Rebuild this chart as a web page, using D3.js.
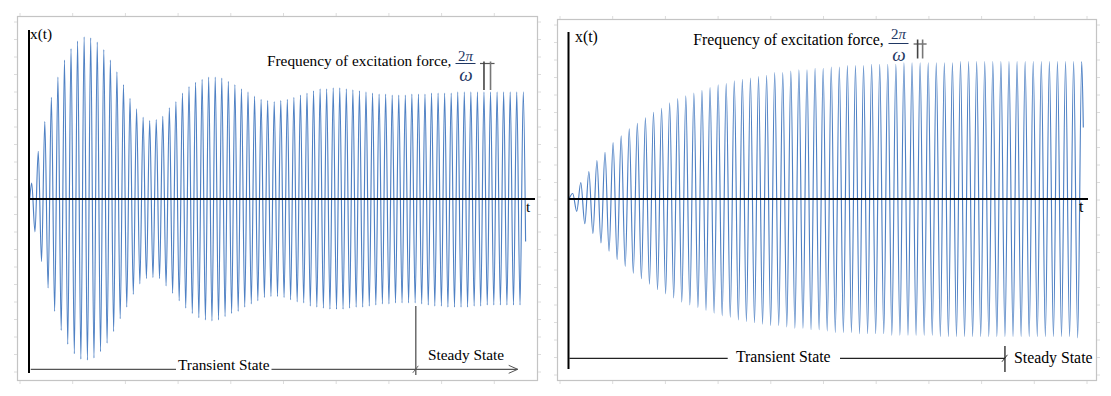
<!DOCTYPE html>
<html>
<head>
<meta charset="utf-8">
<script src="https://cdn.jsdelivr.net/npm/d3@7"></script>
<style>
  body { margin: 0; background: #fff; }
  text { font-family: "Liberation Serif", "Times New Roman", serif; fill: #000; }
</style>
</head>
<body>
<div id="chart"></div>
<script>
// Extremes of x(t), one per half cycle (steady amplitude = 1)
const peaksLeft = [
  0.15, 0.45, 0.73, 0.96, 1.15, 1.31, 1.42, 1.49, 1.53, 1.52,
  1.48, 1.41, 1.31, 1.20, 1.08, 0.95, 0.85, 0.77, 0.74, 0.75,
  0.78, 0.86, 0.92, 1.00, 1.06, 1.10, 1.13, 1.15, 1.15, 1.14,
  1.11, 1.08, 1.04, 1.01, 0.97, 0.94, 0.93, 0.92, 0.93, 0.94,
  0.96, 0.98, 1.00, 1.02, 1.04, 1.04, 1.05, 1.05, 1.04, 1.03,
  1.02, 1.01, 1.00, 0.99, 0.99, 0.98, 0.98, 0.98, 0.99, 0.99,
  0.99, 1.00, 1.00, 1.00, 1.00, 1.01, 1.01, 1.01, 1.01, 1.01,
  1.01, 1.01, 1.01, 1.01, 1.01, 1.01
];
const troughsLeft = [
  -0.31, -0.59, -0.84, -1.06, -1.24, -1.37, -1.46, -1.51, -1.52, -1.50,
  -1.44, -1.36, -1.25, -1.13, -1.02, -0.90, -0.80, -0.75, -0.74, -0.75,
  -0.82, -0.89, -0.96, -1.03, -1.08, -1.12, -1.14, -1.15, -1.14, -1.11,
  -1.08, -1.06, -1.02, -0.99, -0.96, -0.93, -0.92,
  -0.92, -0.93, -0.95, -0.97, -0.98, -1.01, -1.02, -1.03, -1.04, -1.04,
  -1.04, -1.03, -1.02, -1.02, -1.01, -1.00, -0.99, -0.99, -0.98, -0.98,
  -0.98, -0.98, -0.99, -1.00, -1.01, -1.01, -1.02, -1.02, -1.02, -1.02,
  -1.01, -1.01, -1.00, -1.00, -1.00, -1.00, -1.00, -1.00
];
const peaksRight = [
  0.04, 0.12, 0.20, 0.28, 0.34, 0.41, 0.46, 0.51, 0.55, 0.59,
  0.63, 0.66, 0.70, 0.73, 0.75, 0.77, 0.79, 0.81, 0.83, 0.84,
  0.86, 0.87, 0.88, 0.89, 0.90, 0.92, 0.92, 0.93, 0.94, 0.94,
  0.95, 0.95, 0.96, 0.96, 0.97, 0.97, 0.97, 0.98, 0.98, 0.98,
  0.98, 0.99, 0.99, 0.99, 0.99, 0.99, 0.99, 0.99, 1.00, 1.00,
  1.00, 1.00, 1.00, 1.00, 1.00, 1.00, 1.00, 1.00, 1.00, 1.00,
  1.00, 1.00, 1.00, 1.00
];
const troughsRight = [
  -0.09, -0.18, -0.25, -0.32, -0.38, -0.44, -0.49, -0.54, -0.58, -0.62,
  -0.66, -0.69, -0.72, -0.75, -0.77, -0.79, -0.81, -0.83, -0.85, -0.86,
  -0.88, -0.89, -0.90, -0.91, -0.92, -0.92, -0.93, -0.94, -0.94, -0.95,
  -0.95, -0.96, -0.97, -0.97, -0.97, -0.98, -0.98, -0.98, -0.98, -0.99,
  -0.99, -0.99, -0.99, -0.99, -0.99, -1.00, -1.00, -1.00, -1.00, -1.00,
  -1.00, -1.00, -1.00, -1.00, -1.00, -1.00, -1.00, -1.00, -1.00, -1.00,
  -1.00, -1.00, -1.01
];
// where the curve starts and stops [cycle, value]
const startLeft = [-0.3, 0], endLeft = [75.35, -0.40];
const startRight = [-0.46, 0], endRight = [63.2, 0.52];
// cycle where the steady state begins, and the peak the period marker sits on
const steadyLeft = 58.6, steadyRight = 53.5;
const markerLeft = 69, markerRight = 43;

const labels = {
  y: "x(t)", x: "t",
  freq: "Frequency of excitation force,",
  two: "2", pi: "\u03c0", den: "\u03c9",
  transient: "Transient State", steady: "Steady State"
};

const W = 1111, H = 396;
const svg = d3.select("#chart").append("svg")
  .attr("width", W).attr("height", H)
  .style("display", "block");
svg.append("rect").attr("width", W).attr("height", H).attr("fill", "#fff");

function buildPoints(peaks, troughs, start, end) {
  const pts = [start];
  peaks.forEach((p, k) => {
    pts.push([k, p]);
    if (k < troughs.length) pts.push([k + 0.5, troughs[k]]);
  });
  pts.push(end);
  return pts;
}

function drawPanel(o) {
  const g = svg.append("g");

  // frame + faint page ticks around it
  g.append("rect")
    .attr("x", o.frame[0] + 0.5).attr("y", o.frame[1] + 0.5)
    .attr("width", o.frame[2] - o.frame[0]).attr("height", o.frame[3] - o.frame[1])
    .attr("fill", "#fff").attr("stroke", "#c4c4c4").attr("stroke-width", 1.2);
  const tk = g.append("g").attr("stroke", "#dcdcdc").attr("stroke-width", 1);
  d3.range(o.frame[0] + 3, o.frame[2], 52.7).forEach(x => {
    tk.append("line").attr("x1", x).attr("x2", x).attr("y1", o.frame[1] - 3).attr("y2", o.frame[1]);
    tk.append("line").attr("x1", x).attr("x2", x).attr("y1", o.frame[3] + 1).attr("y2", o.frame[3] + 4);
  });
  d3.range(o.frame[1] + 6, o.frame[3], 17.5).forEach(y => {
    tk.append("line").attr("x1", o.frame[0] - 3).attr("x2", o.frame[0]).attr("y1", y).attr("y2", y);
    tk.append("line").attr("x1", o.frame[2] + 1).attr("x2", o.frame[2] + 4).attr("y1", y).attr("y2", y);
  });

  const x = d3.scaleLinear().domain([0, o.peaks.length - 1]).range(o.xRange);
  const y = d3.scaleLinear().domain([-1, 1]).range([o.zero + o.amp, o.zero - o.amp]);

  const pts = buildPoints(o.peaks, o.troughs, o.start, o.end);
  const line = d3.line()
    .x(d => x(d[0])).y(d => y(d[1]))
    .curve(d3.curveMonotoneX);

  g.append("path")
    .datum(pts)
    .attr("d", line)
    .attr("fill", "none")
    .attr("stroke", "#4f81c4")
    .attr("stroke-width", 1.15);

  // axes
  g.append("line")
    .attr("x1", o.axisX).attr("x2", o.axisX)
    .attr("y1", o.yAxisTop).attr("y2", o.yAxisBottom)
    .attr("stroke", "#000").attr("stroke-width", 2);
  g.append("line")
    .attr("x1", o.axisX).attr("x2", o.xAxisEnd)
    .attr("y1", y(0)).attr("y2", y(0))
    .attr("stroke", "#000").attr("stroke-width", 2);

  g.append("text").attr("x", o.yLabel[0]).attr("y", o.yLabel[1])
    .style("font-size", o.fs + "px").text(labels.y);
  g.append("text").attr("x", o.xAxisEnd - 9).attr("y", y(0) + 13)
    .style("font-size", o.fs + "px").text(labels.x);

  // frequency label with fraction
  g.append("text").attr("x", o.freq[0]).attr("y", o.freq[1])
    .style("font-size", o.fs + "px").text(labels.freq);
  const fr = o.frac;
  const num = g.append("text").attr("x", fr.cx).attr("y", fr.numY)
    .attr("text-anchor", "middle")
    .style("font-size", "15px").style("fill", "#1f3763");
  num.append("tspan").text(labels.two);
  num.append("tspan").style("font-style", "italic").style("fill", "#1f3763").text(labels.pi);
  g.append("line").attr("x1", fr.cx - 10).attr("x2", fr.cx + 10)
    .attr("y1", fr.barY).attr("y2", fr.barY)
    .attr("stroke", "#1f3763").attr("stroke-width", 1);
  g.append("text").attr("x", fr.cx + 0.5).attr("y", fr.denY)
    .attr("text-anchor", "middle")
    .style("font-size", "19px").style("font-style", "italic").style("fill", "#1f3763")
    .text(labels.den);

  // period marker
  const m = o.marker;
  g.append("line").attr("x1", m.x1 - 4).attr("x2", m.x2 + 4)
    .attr("y1", m.barY).attr("y2", m.barY)
    .attr("stroke", "#555").attr("stroke-width", 1.2);
  [m.x1, m.x2].forEach((mx, i) => {
    g.append("line").attr("x1", mx).attr("x2", mx)
      .attr("y1", m.top).attr("y2", m.bottom)
      .attr("stroke", i === 0 ? "#444" : "#777").attr("stroke-width", 1.6);
  });

  // transient / steady annotation
  const b = o.bottom;
  const sx = x(o.steady);
  const ann = g.append("g").attr("stroke", b.color).attr("stroke-width", 1.3).attr("fill", "none");
  b.segments.forEach(s => {
    ann.append("line").attr("x1", s[0]).attr("x2", s[1] === "s" ? sx : s[1])
      .attr("y1", b.y).attr("y2", b.y);
  });
  ann.append("line").attr("x1", sx).attr("x2", sx).attr("y1", b.vTop).attr("y2", b.vBottom);
  ann.append("line").attr("x1", sx - 3).attr("x2", sx + 2.5)
    .attr("y1", b.y + 3.5).attr("y2", b.y - 3.5).attr("stroke-width", 0.9);
  if (b.arrowEnd) {
    ann.append("line").attr("x1", sx).attr("x2", b.arrowEnd).attr("y1", b.y).attr("y2", b.y);
    ann.append("polyline")
      .attr("points", `${b.arrowEnd - 9},${b.y - 4} ${b.arrowEnd},${b.y} ${b.arrowEnd - 9},${b.y + 4}`)
      .attr("stroke-width", 1);
  }
  g.append("text").attr("x", b.tText[0]).attr("y", b.tText[1])
    .style("font-size", o.fs + "px").text(labels.transient);
  g.append("text").attr("x", b.sText[0]).attr("y", b.sText[1])
    .style("font-size", o.fs + "px").text(labels.steady);
}

const xl = d3.scaleLinear().domain([0, peaksLeft.length - 1]).range([31.7, 523.3]);
drawPanel({
  peaks: peaksLeft, troughs: troughsLeft, start: startLeft, end: endLeft,
  frame: [17, 16, 537, 380],
  xRange: [31.7, 523.3], zero: 199, amp: 106,
  axisX: 29, yAxisTop: 30, yAxisBottom: 373, xAxisEnd: 535,
  fs: 15.3, yLabel: [30, 38.5],
  freq: [267, 66],
  frac: { cx: 465.5, numY: 60.5, barY: 63.5, denY: 81 },
  marker: { x1: xl(markerLeft), x2: xl(markerLeft + 1), barY: 63.5, top: 61.5, bottom: 90 },
  steady: steadyLeft,
  bottom: {
    y: 369.3, color: "#555", vTop: 306, vBottom: 375,
    segments: [[30.7, 176], [271.5, "s"]], arrowEnd: 517.7,
    tText: [178, 370], sText: [428, 359.5]
  }
});

const xr = d3.scaleLinear().domain([0, peaksRight.length - 1]).range([572.7, 1081.7]);
drawPanel({
  peaks: peaksRight, troughs: troughsRight, start: startRight, end: endRight,
  frame: [557, 19, 1096, 380],
  xRange: [572.7, 1081.7], zero: 199, amp: 137.5,
  axisX: 568.5, yAxisTop: 32, yAxisBottom: 369, xAxisEnd: 1088,
  fs: 15.8, yLabel: [575, 41.5],
  freq: [693.3, 45],
  frac: { cx: 898.5, numY: 38.5, barY: 43.5, denY: 61 },
  marker: { x1: xr(markerRight) - 2.5, x2: xr(markerRight) + 2.5, barY: 44, top: 39.5, bottom: 58.5 },
  steady: steadyRight,
  bottom: {
    y: 358.3, color: "#222", vTop: 346, vBottom: 372,
    segments: [[569.3, 727.7], [840, "s"]], arrowEnd: null,
    tText: [736, 361.5], sText: [1014, 363.3]
  }
});
</script>
</body>
</html>
